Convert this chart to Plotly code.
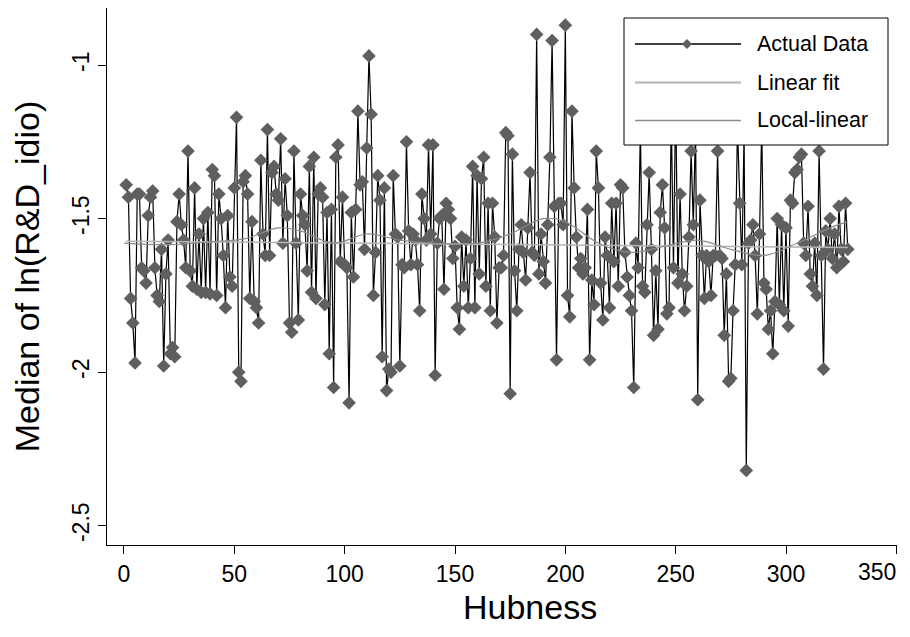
import numpy as np
import plotly.graph_objects as go

# median of ln(R&D_idio) per hubness value
median_ln = [
    -1.39, -1.43, -1.76, -1.84, -1.97, -1.42, -1.42, -1.66, -1.67, -1.71,
    -1.49, -1.43, -1.41, -1.66, -1.75, -1.77, -1.60, -1.98, -1.68, -1.57,
    -1.94, -1.92, -1.95, -1.51, -1.42,
    -1.52, -1.57, -1.66, -1.28, -1.67, -1.72, -1.40, -1.73, -1.55, -1.74,
    -1.50, -1.74, -1.48, -1.745, -1.34, -1.36, -1.75, -1.42, -1.50, -1.62,
    -1.79, -1.49, -1.69, -1.72, -1.40, -1.17, -2.00, -2.03, -1.38,
    -1.36, -1.42, -1.76, -1.51, -1.77, -1.79, -1.84, -1.31, -1.55, -1.62,
    -1.21, -1.62, -1.35, -1.33, -1.42, -1.44, -1.24, -1.58, -1.37, -1.49,
    -1.84, -1.87, -1.28, -1.58, -1.83, -1.42, -1.49, -1.52, -1.67,
    -1.33, -1.74, -1.30, -1.76, -1.42, -1.40, -1.43, -1.78, -1.48, -1.94,
    -1.47, -2.05, -1.30, -1.26, -1.64, -1.43, -1.65, -1.66, -2.10, -1.48,
    -1.69, -1.47, -1.15, -1.39, -1.38, -1.60, -1.27, -0.97, -1.16,
    -1.75, -1.61, -1.36, -1.44, -1.95, -1.40, -2.06, -1.99, -2.00, -1.36,
    -1.55, -1.56, -1.98, -1.65, -1.66, -1.25, -1.54, -1.65, -1.55, -1.57,
    -1.65, -1.80, -1.42, -1.50, -1.57, -1.26, -1.55,
    -1.26, -2.01, -1.58, -1.50, -1.49, -1.73, -1.45, -1.47, -1.50, -1.63,
    -1.59, -1.79, -1.86, -1.56, -1.72, -1.57, -1.79, -1.63, -1.33, -1.79,
    -1.36, -1.68, -1.37, -1.30, -1.72, -1.45, -1.80, -1.45, -1.56,
    -1.84, -1.66, -1.66, -1.62, -1.22, -1.23, -2.07, -1.29, -1.67, -1.80,
    -1.60, -1.52, -1.61, -1.70, -1.53, -1.35, -1.61, -1.62, -0.90, -1.68,
    -1.55, -1.64, -1.71, -1.52, -1.30, -0.92, -1.46, -1.96, -1.45,
    -1.45, -1.52, -0.87, -1.75, -1.82, -1.15, -1.40, -1.56, -1.66, -1.63,
    -1.68, -1.66, -1.47, -1.96, -1.70, -1.78, -1.28, -1.40, -1.71, -1.83,
    -1.56, -1.62, -1.79, -1.45, -1.64, -1.45, -1.72, -1.39,
    -1.40, -1.61, -1.69, -1.75, -1.80, -2.05, -1.58, -1.66, -1.20, -1.72,
    -1.74, -1.52, -1.35, -1.60, -1.88, -1.67, -1.86, -1.48, -1.39, -1.53,
    -1.81, -1.79, -1.15, -1.66, -1.10, -1.71, -1.42, -1.68, -1.80,
    -1.72, -1.56, -1.28, -1.52, -1.20, -2.09, -1.44, -1.62, -1.76, -1.62,
    -1.64, -1.75, -1.62, -1.62, -1.28, -1.62, -1.63, -1.88, -1.68, -2.03,
    -2.02, -1.80, -1.65, -1.20, -1.45, -1.65, -1.22, -2.32, -1.58,
    -1.57, -1.52, -1.62, -1.81, -1.55, -1.20, -1.71, -1.73, -1.86, -1.80,
    -1.94, -1.77, -1.50, -1.78, -1.52, -1.80, -1.53, -1.85, -1.44, -1.45,
    -1.35, -1.34, -1.30, -1.29, -1.58, -1.62, -1.46, -1.68,
    -1.72, -1.58, -1.75, -1.28, -1.62, -1.99, -1.54, -1.60, -1.50, -1.63,
    -1.55, -1.66, -1.46, -1.60, -1.64, -1.45, -1.60,
]
hubness = list(range(1, len(median_ln) + 1))

# local-linear smooth, read at a few hubness values
smooth_x = [0, 20, 40, 55, 70, 80, 95, 110, 125, 140, 160, 175, 190, 200,
            215, 230, 245, 260, 275, 290, 305, 320, 328]
smooth_y = [-1.58, -1.585, -1.575, -1.565, -1.53, -1.54, -1.58, -1.55, -1.57,
            -1.58, -1.58, -1.55, -1.50, -1.51, -1.58, -1.61, -1.59, -1.57,
            -1.60, -1.62, -1.58, -1.53, -1.51]

x_ticks = [0, 50, 100, 150, 200, 250, 300, 350]
y_ticks = [-1, -1.5, -2, -2.5]
legend_names = ['Actual Data', 'Linear fit', 'Local-linear']

# linear fit through the data
slope, intercept = np.polyfit(hubness, median_ln, 1)
fit_x = [hubness[0], hubness[-1]]
fit_y = [intercept + slope * v for v in fit_x]

data_line = dict(color='black', width=1.2)
data_marker = '#5f5f5f'
fit_line = dict(color='#b4b4b4', width=1.5)
smooth_line = dict(color='#8c8c8c', width=1.2)

fig = go.Figure()
fig.add_trace(go.Scatter(
    x=hubness, y=median_ln, mode='lines+markers', name=legend_names[0],
    line=data_line,
    marker=dict(symbol='diamond', size=10.5, color=data_marker, line=dict(width=0))))
fig.add_trace(go.Scatter(
    x=fit_x, y=fit_y, mode='lines', name=legend_names[1], line=fit_line))
fig.add_trace(go.Scatter(
    x=smooth_x, y=smooth_y, mode='lines', name=legend_names[2],
    line=dict(shape='spline', **smooth_line)))

# the page body has an 8px margin, so work in page px and shift back
OFF = 8
W, H = 910 - OFF, 637 - OFF
L, R, T, B = 107 - OFF, 897 - OFF, 8 - OFF, 545 - OFF   # plot area
px = lambda v: (v - OFF - L) / (R - L)
py = lambda v: (B - (v - OFF)) / (B - T)

# Stata-style legend box drawn by hand (plotly's legend samples are too short)
shapes = [dict(type='rect', xref='paper', yref='paper', layer='above',
               x0=px(624), x1=px(888), y0=py(145), y1=py(18),
               fillcolor='white', line=dict(color='black', width=1))]
annotations = []
row_y = [44, 82.5, 120.5]
for name, ry, ln in zip(legend_names, row_y, [data_line, fit_line, smooth_line]):
    shapes.append(dict(type='line', xref='paper', yref='paper', layer='above',
                       x0=px(635), x1=px(741), y0=py(ry), y1=py(ry),
                       line=dict(color=ln['color'], width=ln['width'] + 0.3)))
    annotations.append(dict(text=name, xref='paper', yref='paper',
                            x=px(755), y=py(ry), xanchor='left', yanchor='middle',
                            showarrow=False, font=dict(size=21.5, color='black')))
# diamond marker on the first legend row
dx, dy = 5 / (R - L), 5 / (B - T)
cx, cy = px(687), py(44)
shapes.append(dict(type='path', xref='paper', yref='paper', layer='above',
                   path=f'M {cx - dx} {cy} L {cx} {cy + dy} L {cx + dx} {cy} L {cx} {cy - dy} Z',
                   fillcolor=data_marker, line=dict(width=0)))

# x-axis title sits a little right of the plot centre in the original
annotations.append(dict(text='Hubness', xref='paper', yref='paper',
                        x=px(530), y=py(607), xanchor='center', yanchor='middle',
                        showarrow=False, font=dict(size=34, color='black')))
# last tick label is pulled inside the picture edge
annotations.append(dict(text=str(x_ticks[-1]), xref='paper', yref='paper',
                        x=px(898), y=py(572), xanchor='right', yanchor='middle',
                        showarrow=False, font=dict(size=23, color='black')))

font = 'Liberation Sans, Arial, sans-serif'
fig.update_layout(
    width=W, height=H,
    margin=dict(l=L, r=W - R, t=T, b=H - B),
    plot_bgcolor='white', paper_bgcolor='white',
    font=dict(family=font, color='black', size=23),
    showlegend=False,
    shapes=shapes, annotations=annotations,
    xaxis=dict(range=[-7.7, 350.3], tickvals=x_ticks,
               ticktext=[str(t) for t in x_ticks[:-1]] + [''],
               showgrid=False, zeroline=False, showline=True,
               linecolor='black', linewidth=1, ticks='outside', ticklen=8,
               tickcolor='black', automargin=False),
    yaxis=dict(range=[-2.563, -0.814], tickvals=y_ticks,
               ticktext=['-1', '-1.5', '-2', '-2.5'], tickangle=-90,
               showgrid=False, zeroline=False, showline=True,
               linecolor='black', linewidth=1, ticks='outside', ticklen=8,
               tickcolor='black', automargin=False,
               title=dict(text='Median of ln(R&D_idio)', font=dict(size=34),
                          standoff=20)),
)

fig.write_html("out.html")
